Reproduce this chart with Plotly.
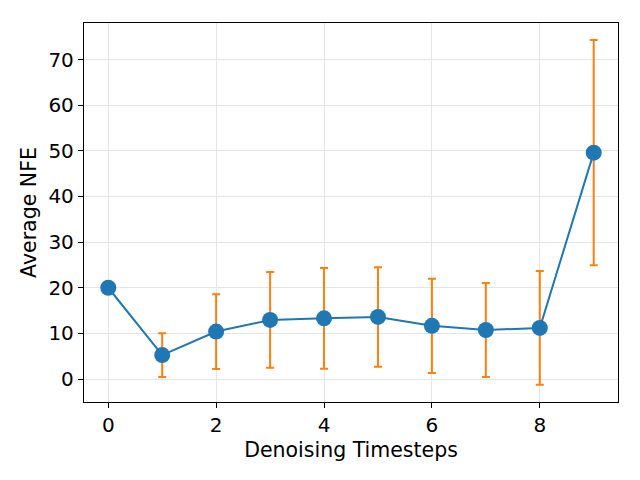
import plotly.graph_objects as go

timesteps = [0, 1, 2, 3, 4, 5, 6, 7, 8, 9]
avg_nfe = [20.0, 5.25, 10.4, 12.95, 13.3, 13.6, 11.65, 10.75, 11.2, 49.6]
std_nfe = [0.0, 4.8, 8.2, 10.5, 11.05, 10.9, 10.3, 10.3, 12.45, 24.65]
x_ticks = [0, 2, 4, 6, 8]
y_ticks = [0, 10, 20, 30, 40, 50, 60, 70]

fig = go.Figure()
fig.add_trace(go.Scatter(
    x=timesteps, y=avg_nfe,
    mode="lines+markers",
    line=dict(color="#1f77b4", width=2),
    marker=dict(color="#1f77b4", size=16),
    error_y=dict(type="data", array=std_nfe, visible=True,
                 color="#ff7f0e", thickness=2, width=4),
    showlegend=False,
))

axis_common = dict(
    showline=True, linecolor="black", linewidth=1.3, mirror=True,
    ticks="outside", ticklen=5, tickwidth=1, tickcolor="black",
    showgrid=True, gridcolor="#e5e5e5", gridwidth=1,
    zeroline=False,
    tickfont=dict(family="DejaVu Sans", size=20, color="black"),
)

fig.update_xaxes(range=[-0.45, 9.45], tickvals=x_ticks,
                 title=dict(text="Denoising Timesteps", standoff=6,
                            font=dict(family="DejaVu Sans", size=20.5, color="black")),
                 **axis_common)
fig.update_yaxes(range=[-5.03, 78.0], tickvals=y_ticks,
                 title=dict(text="Average NFE", standoff=6,
                            font=dict(family="DejaVu Sans", size=20.5, color="black")),
                 **axis_common)

# page body has ~8px default margin; compensate so plot area matches
fig.update_layout(
    width=632, height=472,
    margin=dict(l=76, r=22, t=15, b=78, autoexpand=False),
    plot_bgcolor="white", paper_bgcolor="white",
    font=dict(family="DejaVu Sans"),
)

fig.write_html("out.html")
